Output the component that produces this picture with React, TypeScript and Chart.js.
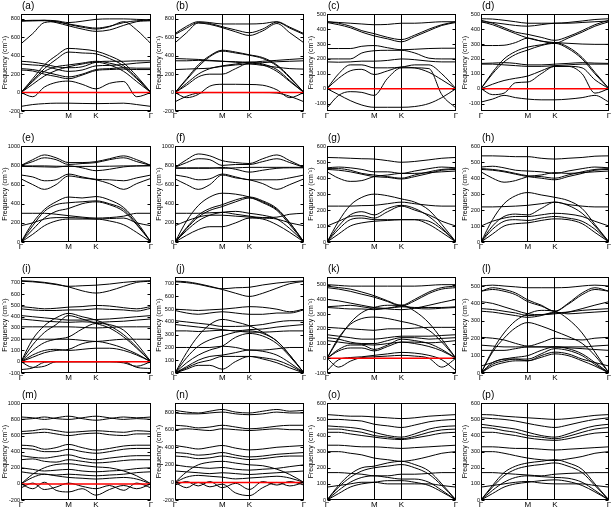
import React, { useEffect, useRef } from "react";
import { Chart, registerables } from "chart.js";
Chart.register(...registerables);

const kPath = [0, 0.09, 0.18, 0.27, 0.366, 0.47, 0.577, 0.68, 0.79, 0.89, 1];
const kTicks = [0, 0.366, 0.577, 1];
const kLabels = ["Γ", "M", "K", "Γ"];
const panelNames = ["(a)", "(b)", "(c)", "(d)", "(e)", "(f)", "(g)", "(h)", "(i)", "(j)", "(k)", "(l)", "(m)", "(n)", "(o)", "(p)"];
const yMins = [-200, -200, -150, -150, 0, 0, 0, 0, -100, 0, -100, 0, -200, -200, 0, 0];
const yMaxs = [850, 850, 500, 500, 1000, 1000, 600, 600, 750, 750, 550, 550, 1000, 900, 600, 600];
const ySteps = [200, 200, 100, 100, 200, 200, 100, 100, 100, 100, 100, 100, 200, 200, 100, 100];
const hasZero = [true, true, true, true, false, false, false, false, true, false, true, false, true, true, false, false];
const yTitle = "Frequency (cm⁻¹)";

const bandsA = [
  [-150, -130, -120, -115, -115, -118, -120, -118, -115, -130, -150],
  [0, -45, 60, 110, 125, 90, 40, 100, 120, -45, 0],
  [0, 90, 180, 240, 280, 310, 330, 300, 230, 120, 0],
  [0, 120, 230, 280, 300, 320, 340, 320, 270, 150, 0],
  [0, 150, 300, 400, 480, 470, 450, 400, 320, 180, 0],
  [0, 130, 260, 360, 440, 430, 420, 370, 290, 160, 0],
  [340, 330, 310, 280, 270, 280, 330, 340, 340, 345, 345],
  [310, 300, 290, 255, 230, 245, 290, 295, 305, 320, 330],
  [260, 250, 225, 195, 170, 200, 250, 260, 270, 265, 265],
  [245, 235, 200, 175, 150, 190, 240, 250, 255, 250, 250],
  [780, 780, 785, 780, 760, 775, 795, 800, 800, 795, 790],
  [780, 785, 785, 770, 745, 720, 700, 720, 760, 780, 785],
  [775, 780, 780, 760, 725, 690, 665, 680, 730, 770, 780],
  [530, 640, 760, 770, 740, 710, 690, 715, 770, 680, 530],
];
const bandsB = [
  [640, 720, 770, 760, 745, 745, 745, 750, 770, 710, 640],
  [630, 700, 760, 750, 715, 680, 650, 690, 765, 700, 630],
  [540, 650, 755, 740, 705, 660, 620, 670, 750, 650, 540],
  [370, 365, 360, 350, 340, 335, 330, 340, 350, 360, 370],
  [345, 345, 350, 345, 340, 330, 320, 325, 335, 340, 345],
  [250, 255, 260, 265, 285, 300, 310, 295, 275, 260, 255],
  [0, 150, 300, 400, 460, 440, 410, 380, 300, 170, 0],
  [0, 140, 280, 390, 450, 430, 405, 370, 290, 160, 0],
  [0, 100, 200, 260, 290, 310, 330, 310, 250, 130, 0],
  [0, 80, 170, 200, 200, 260, 320, 300, 230, 120, 0],
  [0, -55, -20, 70, 90, 90, 88, 80, 30, -55, 0],
  [-100, -40, -5, 0, 0, 0, 0, 0, -5, -40, -100],
];
const bandsC = [
  [450, 445, 440, 435, 430, 432, 440, 440, 445, 450, 450],
  [450, 440, 420, 390, 370, 345, 330, 360, 400, 430, 450],
  [445, 430, 410, 380, 355, 335, 315, 350, 390, 425, 445],
  [270, 270, 270, 285, 290, 275, 262, 265, 270, 272, 272],
  [200, 200, 200, 240, 255, 258, 258, 240, 205, 200, 200],
  [180, 178, 180, 185, 185, 190, 200, 195, 185, 180, 180],
  [0, 100, 160, 160, 140, 140, 145, 160, 160, 100, 0],
  [0, 70, 120, 130, 95, 120, 145, 140, 110, 60, 0],
  [-130, -45, -20, -25, -45, 70, 140, 140, 135, -40, -130],
  [0, -40, -80, -110, -125, -125, -125, -120, -100, -60, 0],
];
const bandsD = [
  [470, 468, 460, 450, 440, 440, 440, 445, 455, 465, 470],
  [450, 445, 435, 425, 420, 430, 440, 440, 445, 450, 455],
  [460, 440, 410, 380, 365, 345, 325, 350, 390, 430, 460],
  [450, 430, 400, 370, 340, 320, 305, 340, 380, 420, 450],
  [290, 290, 292, 310, 340, 320, 310, 305, 300, 298, 298],
  [0, 110, 200, 250, 280, 295, 310, 280, 210, 110, 0],
  [0, 100, 180, 230, 260, 290, 305, 270, 200, 100, 0],
  [170, 172, 175, 170, 160, 160, 165, 170, 175, 172, 170],
  [165, 165, 160, 155, 150, 150, 155, 160, 165, 165, 165],
  [0, 30, 55, 70, 85, 120, 150, 150, 140, 60, 0],
  [0, -40, -30, 40, 45, 100, 150, 150, 100, -30, 0],
  [-90, -70, -45, -60, -70, -75, -75, -70, -60, -45, -90],
];
const bandsE = [
  [800, 860, 910, 880, 830, 830, 840, 870, 900, 860, 800],
  [800, 840, 880, 860, 810, 820, 830, 860, 880, 840, 800],
  [795, 795, 795, 792, 790, 790, 790, 792, 795, 795, 795],
  [790, 788, 785, 782, 795, 775, 745, 760, 785, 795, 800],
  [700, 680, 640, 650, 710, 680, 655, 650, 640, 670, 700],
  [660, 600, 550, 600, 690, 670, 650, 610, 550, 610, 665],
  [0, 200, 340, 420, 470, 460, 475, 440, 360, 210, 0],
  [0, 170, 320, 390, 410, 420, 430, 400, 340, 190, 0],
  [0, 130, 250, 320, 350, 400, 420, 390, 320, 180, 0],
  [300, 300, 300, 290, 275, 260, 250, 255, 270, 300, 300],
  [170, 200, 240, 255, 255, 250, 240, 245, 250, 200, 170],
  [0, 80, 170, 220, 240, 240, 240, 220, 180, 100, 0],
];
const bandsF = [
  [780, 860, 920, 900, 850, 830, 820, 870, 910, 850, 780],
  [780, 830, 870, 860, 800, 810, 810, 840, 870, 830, 780],
  [775, 775, 775, 775, 770, 775, 780, 780, 780, 780, 780],
  [770, 770, 770, 770, 780, 760, 730, 750, 770, 775, 775],
  [700, 680, 650, 660, 710, 680, 650, 650, 650, 670, 700],
  [660, 600, 550, 600, 700, 670, 650, 610, 550, 600, 660],
  [0, 220, 380, 470, 510, 500, 470, 420, 340, 200, 0],
  [0, 150, 280, 350, 390, 440, 470, 430, 350, 200, 0],
  [0, 140, 260, 330, 370, 420, 460, 410, 330, 180, 0],
  [300, 300, 300, 305, 310, 290, 270, 255, 260, 290, 300],
  [0, 120, 220, 280, 310, 320, 300, 280, 240, 140, 0],
  [170, 220, 260, 280, 280, 270, 260, 250, 240, 200, 170],
  [0, 70, 130, 160, 160, 200, 250, 240, 180, 100, 0],
];
const bandsG = [
  [530, 528, 525, 522, 520, 510, 500, 505, 515, 525, 530],
  [465, 470, 465, 455, 440, 440, 430, 445, 460, 470, 465],
  [460, 460, 450, 430, 420, 410, 400, 420, 440, 455, 460],
  [455, 450, 440, 425, 410, 405, 395, 410, 430, 450, 455],
  [440, 400, 380, 385, 410, 420, 430, 430, 435, 440, 445],
  [0, 130, 230, 280, 300, 290, 270, 250, 200, 110, 0],
  [225, 225, 225, 228, 230, 240, 250, 240, 230, 225, 225],
  [0, 100, 170, 190, 170, 210, 230, 210, 160, 90, 0],
  [100, 130, 160, 165, 150, 190, 225, 200, 170, 130, 100],
  [0, 80, 140, 150, 140, 140, 140, 140, 130, 80, 0],
  [0, 50, 100, 120, 130, 135, 140, 140, 110, 60, 0],
];
const bandsH = [
  [540, 540, 538, 535, 535, 525, 520, 525, 530, 538, 540],
  [470, 475, 465, 450, 445, 440, 430, 445, 460, 470, 465],
  [460, 455, 445, 430, 415, 410, 400, 420, 440, 455, 460],
  [455, 450, 440, 425, 410, 400, 390, 410, 430, 450, 455],
  [440, 400, 375, 385, 410, 420, 435, 430, 435, 440, 445],
  [0, 140, 240, 290, 310, 295, 280, 260, 210, 110, 0],
  [220, 220, 222, 225, 230, 240, 250, 235, 225, 220, 220],
  [0, 100, 160, 175, 170, 210, 250, 230, 180, 100, 0],
  [100, 130, 150, 160, 160, 170, 180, 175, 160, 130, 100],
  [0, 80, 130, 140, 135, 150, 160, 150, 130, 80, 0],
  [0, 50, 100, 115, 120, 135, 145, 140, 115, 60, 0],
];
const bandsI = [
  [720, 715, 705, 690, 670, 675, 680, 690, 705, 715, 720],
  [715, 710, 700, 685, 665, 630, 610, 630, 670, 705, 715],
  [490, 480, 470, 475, 485, 490, 500, 495, 480, 470, 490],
  [470, 460, 455, 455, 460, 460, 470, 465, 460, 450, 475],
  [410, 400, 390, 380, 370, 370, 375, 380, 390, 400, 410],
  [380, 370, 360, 355, 350, 355, 350, 355, 360, 370, 380],
  [310, 310, 310, 310, 310, 305, 300, 305, 310, 310, 310],
  [0, 200, 320, 390, 430, 400, 370, 320, 240, 130, 0],
  [0, 150, 260, 330, 410, 380, 340, 300, 220, 120, 0],
  [0, 100, 170, 200, 220, 290, 340, 330, 280, 160, 0],
  [200, 200, 200, 200, 200, 190, 180, 190, 200, 200, 200],
  [0, 60, 100, 110, 100, 110, 120, 120, 100, 60, 0],
  [0, 40, 80, 100, 110, 160, 180, 160, 120, 70, 0],
  [0, -50, -40, 0, 0, 0, 0, 0, -10, -40, 0],
  [-70, -55, -5, 0, 0, 0, 0, 0, 0, -50, -60],
];
const bandsJ = [
  [720, 715, 700, 680, 660, 668, 672, 690, 705, 715, 722],
  [715, 708, 695, 675, 655, 625, 600, 625, 665, 700, 718],
  [500, 495, 490, 495, 500, 510, 520, 515, 500, 480, 500],
  [490, 470, 460, 470, 480, 470, 460, 460, 470, 470, 495],
  [410, 400, 390, 380, 365, 365, 370, 380, 400, 410, 410],
  [380, 370, 360, 350, 340, 330, 340, 345, 360, 370, 380],
  [330, 330, 325, 330, 335, 330, 320, 320, 325, 330, 330],
  [0, 160, 290, 380, 420, 400, 370, 320, 250, 140, 0],
  [0, 120, 210, 260, 290, 320, 330, 310, 250, 140, 0],
  [200, 200, 200, 200, 210, 200, 180, 180, 190, 200, 200],
  [0, 80, 140, 180, 210, 280, 310, 290, 230, 130, 0],
  [0, 50, 100, 130, 140, 160, 180, 170, 140, 80, 0],
  [0, 40, 80, 100, 130, 130, 130, 120, 100, 60, 0],
  [0, 30, 60, 60, 30, 90, 130, 110, 80, 40, 0],
];
const bandsK = [
  [500, 495, 490, 490, 490, 490, 490, 490, 495, 500, 500],
  [490, 480, 470, 450, 425, 390, 360, 400, 450, 480, 490],
  [480, 470, 455, 435, 415, 385, 355, 390, 440, 470, 480],
  [400, 390, 375, 360, 345, 335, 330, 340, 360, 380, 400],
  [350, 355, 360, 350, 340, 340, 350, 345, 345, 345, 350],
  [345, 340, 335, 335, 330, 340, 355, 340, 335, 340, 345],
  [0, 130, 240, 310, 345, 360, 360, 320, 240, 130, 0],
  [0, 140, 230, 270, 280, 270, 250, 230, 190, 110, 0],
  [210, 205, 200, 195, 190, 200, 200, 205, 210, 210, 210],
  [160, 150, 140, 130, 130, 140, 150, 150, 150, 155, 160],
  [140, 130, 110, 100, 100, 120, 140, 140, 130, 135, 140],
  [0, 60, 90, 90, 60, 90, 130, 120, 100, 60, 0],
  [0, 50, 70, 70, 50, 80, 110, 100, 80, 50, 0],
  [120, 110, 100, 95, 90, 100, 110, 110, 105, 110, 120],
  [-85, -10, 5, 10, 20, 30, 40, 35, 20, -10, -85],
  [0, -60, -20, 5, 10, 15, 20, 15, 0, -60, 0],
];
const bandsL = [
  [500, 505, 500, 495, 490, 490, 490, 492, 500, 505, 500],
  [470, 490, 480, 460, 420, 390, 355, 400, 460, 490, 470],
  [470, 480, 470, 450, 410, 385, 355, 395, 450, 480, 470],
  [410, 400, 380, 360, 340, 335, 340, 350, 370, 390, 410],
  [370, 365, 355, 345, 330, 335, 345, 350, 360, 365, 370],
  [355, 350, 340, 330, 320, 330, 350, 340, 345, 350, 355],
  [0, 130, 230, 300, 340, 360, 355, 310, 230, 120, 0],
  [0, 120, 200, 260, 290, 270, 240, 210, 170, 100, 0],
  [205, 200, 190, 170, 155, 175, 200, 195, 190, 200, 205],
  [160, 155, 150, 150, 150, 150, 150, 150, 150, 155, 160],
  [130, 130, 130, 140, 150, 150, 150, 145, 140, 135, 130],
  [0, 60, 80, 90, 100, 130, 150, 140, 110, 60, 0],
  [0, 50, 70, 80, 80, 110, 140, 130, 100, 50, 0],
  [40, 60, 80, 80, 70, 100, 120, 110, 80, 60, 40],
  [0, 40, 60, 70, 70, 90, 110, 100, 70, 40, 0],
];
const bandsM = [
  [830, 820, 800, 820, 840, 810, 790, 810, 830, 820, 830],
  [800, 810, 830, 810, 800, 820, 840, 820, 800, 810, 800],
  [650, 660, 680, 660, 640, 650, 660, 650, 640, 660, 650],
  [620, 630, 640, 620, 600, 620, 630, 610, 600, 620, 620],
  [480, 470, 430, 450, 490, 450, 420, 440, 470, 480, 480],
  [440, 430, 400, 400, 430, 400, 380, 400, 430, 440, 440],
  [350, 330, 320, 340, 360, 320, 300, 320, 340, 350, 350],
  [300, 310, 280, 270, 300, 280, 260, 270, 290, 300, 300],
  [0, 120, 200, 240, 250, 230, 210, 200, 160, 100, 0],
  [200, 180, 160, 170, 180, 160, 150, 160, 170, 190, 200],
  [150, 130, 120, 110, 120, 110, 100, 110, 120, 140, 150],
  [0, 80, 120, 100, 80, 70, 60, 70, 80, 60, 0],
  [0, -60, 20, -80, -100, -60, -140, -70, -20, -60, 0],
  [-50, 10, -70, -40, 10, -30, -60, -20, -80, 10, -50],
];
const bandsN = [
  [820, 800, 790, 810, 830, 800, 790, 810, 830, 810, 820],
  [790, 780, 780, 790, 800, 780, 770, 780, 800, 790, 790],
  [650, 640, 620, 630, 650, 630, 610, 620, 640, 650, 650],
  [600, 610, 600, 590, 610, 600, 590, 600, 610, 600, 600],
  [420, 400, 380, 400, 420, 390, 370, 380, 400, 410, 420],
  [340, 330, 310, 320, 340, 310, 290, 300, 320, 330, 340],
  [300, 290, 270, 280, 300, 280, 260, 270, 290, 300, 300],
  [0, 120, 200, 230, 240, 220, 200, 190, 150, 90, 0],
  [200, 180, 170, 160, 170, 150, 140, 150, 160, 180, 200],
  [130, 120, 110, 100, 110, 100, 90, 100, 110, 120, 130],
  [0, 60, 80, 70, 60, 40, 50, 60, 70, 50, 0],
  [0, -60, 0, -50, -20, -120, -150, -60, 0, -40, 0],
  [-30, 10, -40, 10, -60, -10, -80, 10, -30, 10, -30],
];
const bandsO = [
  [530, 525, 520, 520, 515, 510, 505, 510, 520, 525, 530],
  [500, 500, 495, 490, 470, 460, 450, 465, 485, 495, 500],
  [460, 455, 450, 440, 420, 400, 390, 410, 440, 455, 460],
  [440, 440, 430, 420, 400, 390, 380, 395, 420, 435, 440],
  [420, 420, 410, 400, 390, 380, 375, 385, 400, 415, 420],
  [340, 340, 335, 330, 330, 325, 320, 325, 330, 335, 340],
  [300, 300, 290, 280, 260, 250, 240, 250, 270, 290, 300],
  [0, 90, 160, 200, 210, 230, 240, 220, 180, 100, 0],
  [0, 80, 140, 180, 200, 210, 220, 200, 160, 90, 0],
  [170, 170, 165, 160, 150, 150, 160, 160, 165, 170, 170],
  [0, 60, 110, 140, 150, 140, 130, 130, 110, 60, 0],
  [0, 40, 80, 100, 110, 120, 120, 110, 90, 50, 0],
  [80, 90, 100, 110, 110, 100, 100, 100, 100, 90, 80],
];
const bandsP = [
  [530, 528, 520, 515, 510, 505, 500, 505, 515, 525, 530],
  [510, 505, 500, 490, 475, 460, 450, 465, 485, 500, 510],
  [470, 460, 450, 440, 420, 400, 390, 410, 440, 460, 470],
  [450, 445, 430, 420, 400, 390, 380, 395, 420, 440, 450],
  [420, 420, 410, 400, 385, 375, 370, 380, 400, 415, 420],
  [330, 330, 325, 320, 320, 315, 310, 315, 320, 325, 330],
  [300, 300, 290, 275, 260, 250, 245, 255, 270, 290, 300],
  [0, 90, 170, 210, 230, 240, 250, 230, 190, 100, 0],
  [0, 80, 150, 190, 210, 220, 230, 210, 170, 90, 0],
  [170, 170, 165, 160, 155, 150, 160, 165, 168, 170, 170],
  [0, 60, 110, 140, 150, 145, 140, 135, 110, 60, 0],
  [0, 40, 80, 100, 110, 120, 125, 115, 90, 50, 0],
  [80, 90, 100, 110, 115, 105, 100, 100, 100, 90, 80],
];
const allBands = [bandsA, bandsB, bandsC, bandsD, bandsE, bandsF, bandsG, bandsH, bandsI, bandsJ, bandsK, bandsL, bandsM, bandsN, bandsO, bandsP];

const colLefts = [21, 175, 327, 481];
const colWidths = [130, 129, 129, 128];
const rowTops = [14, 146, 277, 403];
const rowHeights = [97, 96, 96, 97];
const AXW = 20;
const AXH = 10;
const PADT = 4;
const PADR = 4;
const FONT = "'Liberation Sans', Arial, sans-serif";

const framePlugin = {
  id: "frame",
  afterDatasetsDraw(chart: any) {
    const { ctx, chartArea: a, scales } = chart;
    ctx.save();
    ctx.strokeStyle = "#000";
    ctx.lineWidth = 1;
    const l = Math.round(a.left) + 0.5;
    const t = Math.round(a.top) + 0.5;
    const r = Math.round(a.right) - 0.5;
    const b = Math.round(a.bottom) - 0.5;
    ctx.strokeRect(l, t, r - l, b - t);
    ctx.beginPath();
    scales.y.ticks.forEach((tk: any) => {
      const y = Math.round(scales.y.getPixelForValue(tk.value)) + 0.5;
      ctx.moveTo(l, y);
      ctx.lineTo(l + 3, y);
      ctx.moveTo(r, y);
      ctx.lineTo(r - 3, y);
    });
    ctx.stroke();
    ctx.restore();
  },
};

function Panel({ idx }: { idx: number }) {
  const ref = useRef<HTMLCanvasElement>(null);
  const col = idx % 4;
  const row = Math.floor(idx / 4);
  const w = colWidths[col] + AXW + PADR;
  const h = rowHeights[row] + PADT + AXH;
  useEffect(() => {
    if (!ref.current) return;
    const datasets: any[] = [];
    if (hasZero[idx]) {
      datasets.push({
        data: [{ x: 0, y: 0 }, { x: 1, y: 0 }],
        borderColor: "#ff0000",
        borderWidth: 1.5,
        pointRadius: 0,
      });
    }
    allBands[idx].forEach((band) => {
      datasets.push({
        data: band.map((v, i) => ({ x: kPath[i], y: v })),
        borderColor: "#000",
        borderWidth: 1,
        pointRadius: 0,
        cubicInterpolationMode: "monotone",
        fill: false,
      });
    });
    const chart = new Chart(ref.current, {
      type: "line",
      data: { datasets },
      plugins: [framePlugin],
      options: {
        animation: false,
        responsive: false,
        devicePixelRatio: 1,
        layout: { padding: { top: PADT, right: PADR, left: 0, bottom: 0 } },
        plugins: { legend: { display: false }, tooltip: { enabled: false } },
        scales: {
          x: {
            type: "linear",
            min: 0,
            max: 1,
            afterBuildTicks: (s: any) => {
              s.ticks = kTicks.map((v) => ({ value: v }));
            },
            afterFit: (s: any) => {
              s.height = AXH;
            },
            ticks: {
              callback: (_v: any, i: number) => kLabels[i],
              font: { size: 8, family: FONT },
              color: "#000",
              padding: 0,
              maxRotation: 0,
              autoSkip: false,
            },
            grid: {
              color: (c: any) => (c.tick && c.tick.value > 0.01 && c.tick.value < 0.99 ? "#000" : "rgba(0,0,0,0)"),
              lineWidth: 1,
              drawTicks: false,
            },
            border: { display: false },
          },
          y: {
            type: "linear",
            min: yMins[idx],
            max: yMaxs[idx],
            afterFit: (s: any) => {
              s.width = AXW;
            },
            ticks: {
              stepSize: ySteps[idx],
              includeBounds: false,
              callback: (v: any) => String(v),
              font: { size: 5.5, family: FONT },
              color: "#000",
              padding: 1,
            },
            grid: { display: false, drawTicks: false },
            border: { display: false },
            title: {
              display: true,
              text: yTitle,
              font: { size: 7, family: FONT },
              color: "#000",
              padding: 0,
            },
          },
        },
      } as any,
    });
    return () => chart.destroy();
  }, [idx]);
  return (
    <>
      <canvas
        ref={ref}
        width={w}
        height={h}
        style={{ position: "absolute", left: colLefts[col] - AXW, top: rowTops[row] - PADT, width: w, height: h }}
      />
      <div
        style={{
          position: "absolute",
          left: colLefts[col] + 1,
          top: rowTops[row] - 13,
          fontFamily: FONT,
          fontSize: 10,
          lineHeight: "10px",
          color: "#000",
          whiteSpace: "nowrap",
        }}
      >
        {panelNames[idx]}
      </div>
    </>
  );
}

export default function App() {
  return (
    <div style={{ position: "fixed", left: 0, top: 0, width: 612, height: 508, overflow: "hidden", background: "#fff" }}>
      {panelNames.map((_, i) => (
        <Panel key={i} idx={i} />
      ))}
    </div>
  );
}
